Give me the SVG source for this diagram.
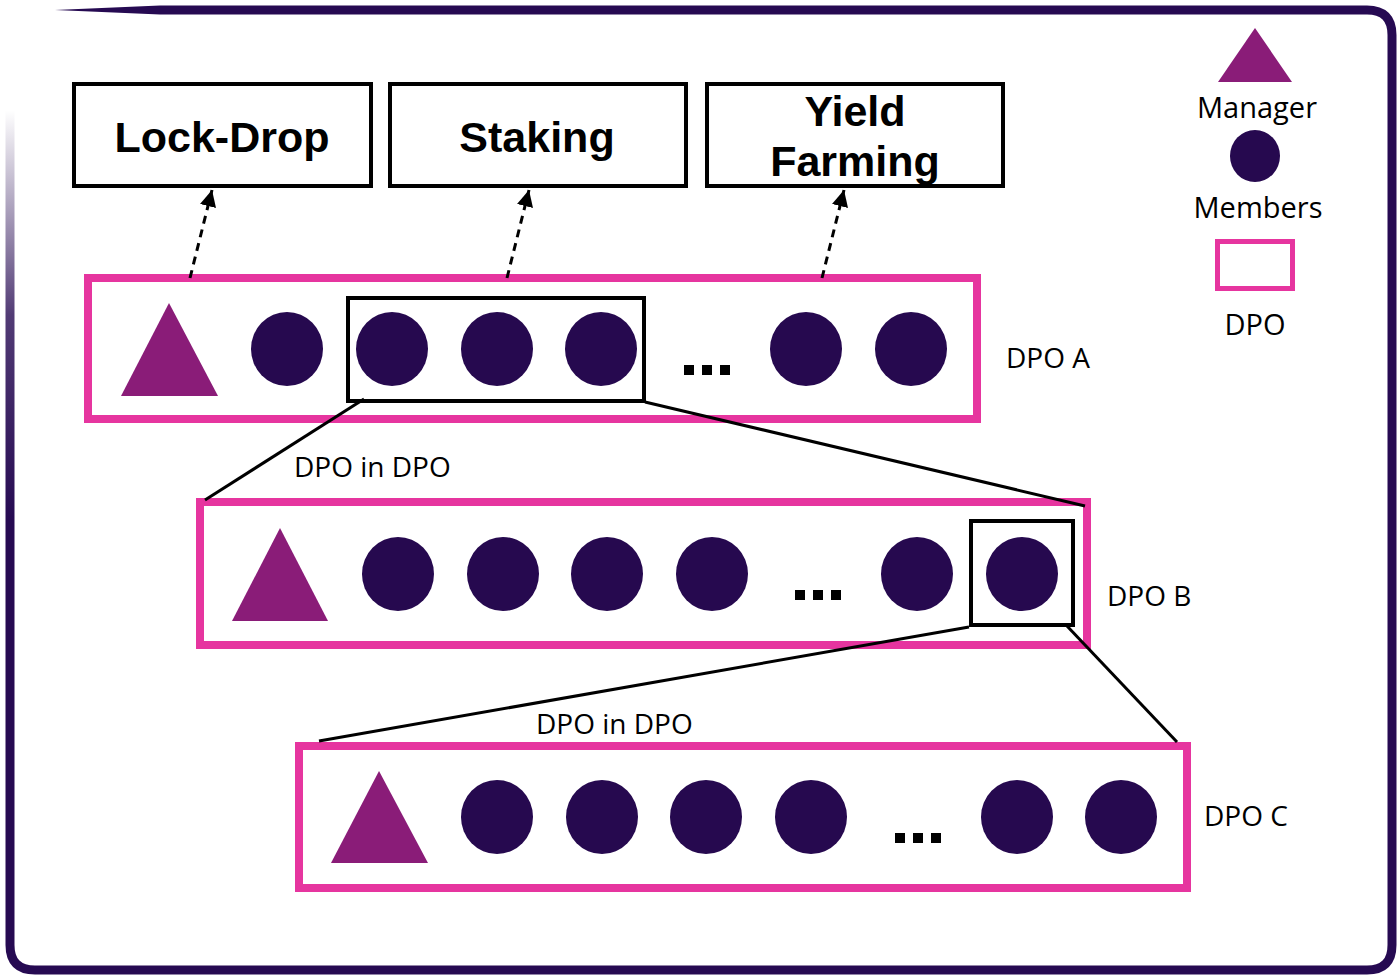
<svg xmlns="http://www.w3.org/2000/svg" width="1400" height="980" viewBox="0 0 1400 980">
<defs>
<style>
.box{fill:#fff;stroke:#000;stroke-width:4}
.zoom{fill:none;stroke:#000;stroke-width:4}
.dpo{fill:#fff;stroke:#e6359f;stroke-width:8}
.mgr{fill:#8a1c78}
.mem{fill:#26094f}
.dots{fill:#000}
.title{font-family:"Liberation Sans",Arial,sans-serif;font-weight:bold;font-size:43px;fill:#000;text-anchor:middle}
.lbl{font-family:"Open Sans","Noto Sans",sans-serif;font-size:28px;fill:#000}
.leg{font-family:"Open Sans","Noto Sans",sans-serif;font-size:29px;fill:#000;text-anchor:middle}
.dash{fill:none;stroke:#000;stroke-width:3;stroke-dasharray:8 6}
.link{fill:none;stroke:#000;stroke-width:3}
</style>
<marker id="ah" viewBox="0 0 10 10" refX="10" refY="5" markerWidth="5.5" markerHeight="5.5" markerUnits="strokeWidth" orient="auto">
<path d="M0,0 L10,5 L0,10 Z" fill="#000"/>
</marker>
<linearGradient id="fade" gradientUnits="userSpaceOnUse" x1="0" y1="520" x2="0" y2="110">
<stop offset="0" stop-color="#260a52" stop-opacity="1"/>
<stop offset="0.5" stop-color="#260a52" stop-opacity="0.8"/>
<stop offset="1" stop-color="#260a52" stop-opacity="0"/>
</linearGradient>
</defs>
<rect width="1400" height="980" fill="#fff"/>

<g id="frame">
<path d="M10 520 L10 945 Q10 970 35 970 L1367 970 Q1392 970 1392 945 L1392 35 Q1392 10 1367 10 L160 10" fill="none" stroke="#260a52" stroke-width="9"/>
<polygon points="160,5.5 55,10 160,14.5" fill="#260a52"/>
<line x1="10" y1="520" x2="10" y2="60" stroke="url(#fade)" stroke-width="9"/>
</g>

<g id="lockdrop">
<rect class="box" x="74" y="84" width="297" height="102"/>
<text class="title" x="222" y="152">Lock-Drop</text>
</g>
<g id="staking">
<rect class="box" x="390" y="84" width="296" height="102"/>
<text class="title" x="537" y="152">Staking</text>
</g>
<g id="yieldfarming">
<rect class="box" x="707" y="84" width="296" height="102"/>
<text class="title" x="855" y="126">Yield</text>
<text class="title" x="855" y="176">Farming</text>
</g>

<g id="dpoA">
<rect class="dpo" x="88" y="278" width="889" height="141"/>
<polygon class="mgr" points="169,303 218,396 121,396"/>
<ellipse class="mem" cx="287" cy="349" rx="36" ry="37"/>
<ellipse class="mem" cx="392" cy="349" rx="36" ry="37"/>
<ellipse class="mem" cx="497" cy="349" rx="36" ry="37"/>
<ellipse class="mem" cx="601" cy="349" rx="36" ry="37"/>
<ellipse class="mem" cx="806" cy="349" rx="36" ry="37"/>
<ellipse class="mem" cx="911" cy="349" rx="36" ry="37"/>
<rect class="dots" x="684" y="365" width="10" height="10"/>
<rect class="dots" x="702" y="365" width="10" height="10"/>
<rect class="dots" x="720" y="365" width="10" height="10"/>
<rect class="zoom" x="348" y="298" width="296" height="103"/>
<text class="lbl" x="1006" y="368">DPO A</text>
</g>

<text class="lbl" x="294" y="477">DPO in DPO</text>

<g id="dpoB">
<rect class="dpo" x="200" y="502" width="887" height="143"/>
<polygon class="mgr" points="280,528 328,621 232,621"/>
<ellipse class="mem" cx="398" cy="574" rx="36" ry="37"/>
<ellipse class="mem" cx="503" cy="574" rx="36" ry="37"/>
<ellipse class="mem" cx="607" cy="574" rx="36" ry="37"/>
<ellipse class="mem" cx="712" cy="574" rx="36" ry="37"/>
<ellipse class="mem" cx="917" cy="574" rx="36" ry="37"/>
<ellipse class="mem" cx="1022" cy="574" rx="36" ry="37"/>
<rect class="dots" x="795" y="590" width="10" height="10"/>
<rect class="dots" x="813" y="590" width="10" height="10"/>
<rect class="dots" x="831" y="590" width="10" height="10"/>
<rect class="zoom" x="971" y="521" width="102" height="104"/>
<text class="lbl" x="1107" y="606">DPO B</text>
</g>

<text class="lbl" x="536" y="734">DPO in DPO</text>

<g id="dpoC">
<rect class="dpo" x="299" y="746" width="888" height="142"/>
<polygon class="mgr" points="379,771 428,863 331,863"/>
<ellipse class="mem" cx="497" cy="817" rx="36" ry="37"/>
<ellipse class="mem" cx="602" cy="817" rx="36" ry="37"/>
<ellipse class="mem" cx="706" cy="817" rx="36" ry="37"/>
<ellipse class="mem" cx="811" cy="817" rx="36" ry="37"/>
<ellipse class="mem" cx="1017" cy="817" rx="36" ry="37"/>
<ellipse class="mem" cx="1121" cy="817" rx="36" ry="37"/>
<rect class="dots" x="895" y="833" width="10" height="10"/>
<rect class="dots" x="913" y="833" width="10" height="10"/>
<rect class="dots" x="931" y="833" width="10" height="10"/>
<text class="lbl" x="1204" y="826">DPO C</text>
</g>

<g id="legend">
<polygon class="mgr" points="1255,28 1292,82 1218,82"/>
<text class="leg" x="1257" y="118">Manager</text>
<ellipse class="mem" cx="1255" cy="156" rx="25" ry="26"/>
<text class="leg" x="1258" y="218">Members</text>
<rect x="1217.5" y="241.5" width="75" height="47" fill="none" stroke="#e6359f" stroke-width="5"/>
<text class="leg" x="1255" y="335">DPO</text>
</g>

<g id="connectors">
<line class="dash" x1="190" y1="278" x2="212" y2="190" marker-end="url(#ah)"/>
<line class="dash" x1="507" y1="278" x2="529" y2="190" marker-end="url(#ah)"/>
<line class="dash" x1="822" y1="278" x2="844" y2="190" marker-end="url(#ah)"/>
<line class="link" x1="364" y1="399" x2="205" y2="500"/>
<line class="link" x1="645" y1="402" x2="1085" y2="506"/>
<line class="link" x1="969" y1="627" x2="319" y2="741"/>
<line class="link" x1="1067" y1="626" x2="1177" y2="742"/>
</g>
</svg>
